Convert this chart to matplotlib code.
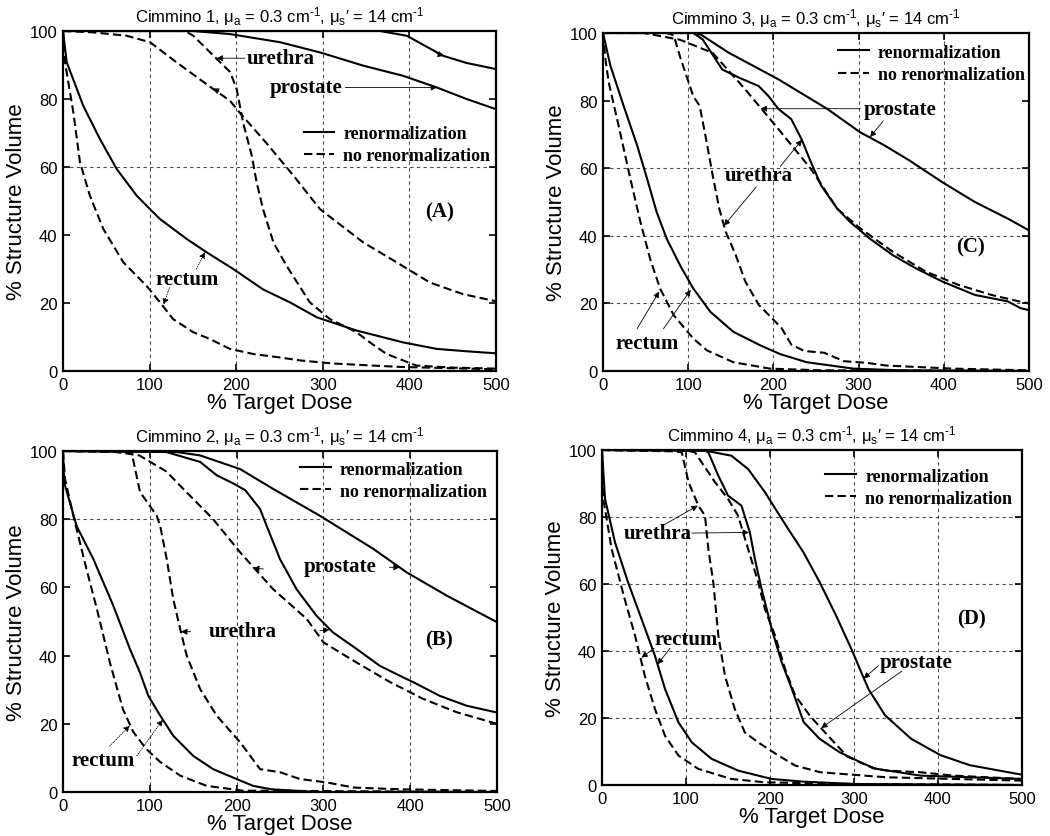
import matplotlib
matplotlib.use('Agg')
import matplotlib.pyplot as plt

plt.rcParams['font.family'] = ['Liberation Sans', 'DejaVu Sans']
plt.rcParams['mathtext.fontset'] = 'custom'
plt.rcParams['mathtext.rm'] = 'Liberation Sans'
plt.rcParams['mathtext.it'] = 'Liberation Sans'
plt.rcParams['mathtext.bf'] = 'Liberation Sans:bold'

# ---------------- Panel A (Cimmino 1) ----------------
a_pro_ren_x = [0, 150, 192.8, 250.6, 296.8, 346.8, 393, 431.5, 466, 500]
a_pro_ren_y = [100, 100, 99.1, 96.7, 93.7, 89.8, 86.8, 83.4, 80, 77]
a_pro_no_x = [0, 35, 73.5, 100.5, 131, 173.6, 192.8, 204, 235, 266, 296.8, 346.8, 385, 423.8, 462, 500]
a_pro_no_y = [100, 99.6, 98.6, 96.7, 90.8, 82.9, 79.5, 76, 67, 57.5, 47.6, 37.8, 32, 26, 22.6, 20.5]
a_ure_ren_x = [0, 340, 366, 397, 439, 466, 500]
a_ure_ren_y = [100, 100, 100, 98.6, 92.7, 90.6, 88.8]
a_ure_no_x = [0, 141, 150.5, 177.5, 192.8, 200.5, 208, 218, 223.6, 231, 243, 258, 285, 308, 339, 354.5, 373.7, 408, 450, 500]
a_ure_no_y = [100, 100, 98.6, 91.8, 88, 83, 73, 63.3, 55.5, 47.6, 37.8, 31, 20.2, 15.3, 11.4, 8.4, 5, 1.6, 1.0, 0.7]
a_rec_ren_x = [0, 4.3, 23.4, 42.7, 62, 85, 100.5, 112, 143, 166, 196.6, 231, 262, 293, 339, 393, 431.5, 466, 500]
a_rec_ren_y = [100, 90.8, 78, 68.2, 59.4, 51.6, 47.6, 44.7, 38.8, 34.9, 30, 24, 20.2, 15.8, 11.9, 8.4, 6.5, 5.8, 5.2]
a_rec_no_x = [0, 2.3, 12, 19.6, 31, 46.5, 69.6, 96.6, 112, 127, 150.5, 169.7, 192.8, 219.7, 250, 274, 312, 389, 500]
a_rec_no_y = [100, 90.8, 76, 61.4, 51.6, 41.8, 32, 25, 20.2, 15.3, 11.4, 9.4, 6.5, 5, 4, 3.1, 2.2, 1.2, 0.5]

# ---------------- Panel B (Cimmino 2) ----------------
b_pro_ren_x = [0, 131, 158, 204, 242, 296, 357.5, 396, 442, 500]
b_pro_ren_y = [100, 99.7, 98.7, 94.7, 88.9, 81, 71.3, 64.4, 57.6, 49.8]
b_pro_no_x = [0, 54, 88, 119, 142, 173, 204, 242, 281, 300, 338, 377, 415, 453.5, 500]
b_pro_no_y = [100, 100, 98.7, 94, 88, 80, 70.3, 59.5, 50.7, 43.9, 38, 32.2, 27.3, 23.4, 20]
b_ure_ren_x = [0, 119, 158, 177, 196, 210, 227, 234.7, 250, 269, 292, 311, 338, 365, 388, 403.6, 434, 465, 500]
b_ure_ren_y = [100, 99.7, 96.8, 92.9, 90.5, 88.5, 83, 78, 68.3, 59.5, 51.7, 46.8, 42, 37, 34.1, 32.2, 28.2, 25.3, 23.3]
b_ure_no_x = [0, 79, 88.7, 108, 112, 119.5, 127, 135, 142.5, 158, 177, 204, 227, 250, 273, 304, 335, 388, 500]
b_ure_no_y = [100, 99.6, 88, 81, 78, 68.3, 56.6, 47.8, 40, 30.2, 22.4, 14.6, 6.7, 5.8, 3.8, 2.8, 1.3, 0.8, 0.3]
b_rec_ren_x = [0, 1.3, 15.7, 35, 58, 77, 88.7, 98.3, 112, 127, 150, 173, 200, 219, 240, 292, 500]
b_rec_ren_y = [100, 90.8, 78, 68.3, 54.6, 42, 35, 28.2, 22.4, 16.5, 10.6, 6.7, 3.8, 1.8, 0.8, 0, 0]
b_rec_no_x = [0, 2.3, 11.9, 27, 39, 54, 69, 81, 96, 112, 135, 165.5, 207, 500]
b_rec_no_y = [100, 91.8, 81, 65.4, 53.7, 38, 24.3, 17.6, 12.6, 8.8, 4.8, 1.8, 0.4, 0]

# ---------------- Panel C (Cimmino 3) ----------------
c_pro_ren_x = [0, 106, 115, 148, 205.8, 263.5, 302, 330, 359.6, 398, 436.5, 475, 500]
c_pro_ren_y = [100, 100, 99.5, 94.1, 86.3, 77.5, 70.6, 66.8, 62.3, 55.9, 50, 45.1, 41.6]
c_pro_no_x = [0, 48, 90.4, 128.8, 167, 205.8, 244, 275, 302, 340, 379, 417, 456, 490, 500]
c_pro_no_y = [100, 100, 98, 94.1, 83.3, 71.6, 59.8, 48, 42.2, 35.3, 29.4, 25.5, 22.5, 20.5, 20]
c_ure_ren_x = [0, 106, 117, 140, 159.6, 182.7, 194, 206, 221, 233, 244, 256, 275, 290, 313, 340, 367, 398, 436.5, 475, 490, 500]
c_ure_ren_y = [100, 100, 98.1, 89.2, 86.8, 84.3, 81.4, 77.5, 74.5, 68.6, 61.8, 54.9, 48, 44.1, 39.2, 34.3, 30.4, 26.5, 22.5, 20.6, 18.6, 18]
c_ure_no_x = [0, 75, 83, 90.4, 105.8, 113.5, 121, 128.8, 136.5, 144, 155.8, 167, 182.7, 198, 209.6, 221, 236.5, 259.6, 282.7, 310, 333, 411, 500]
c_ure_no_y = [100, 100, 99.3, 93, 81.4, 78.4, 68.6, 57.8, 48, 41.2, 34.3, 26.5, 19.6, 15.7, 12.7, 7.8, 5.9, 5.4, 2.9, 2.4, 1.6, 0.7, 0.2]
c_rec_ren_x = [0, 8.6, 24, 40, 51.6, 63, 75, 91, 106, 126, 153, 184.5, 208, 239, 294, 350, 500]
c_rec_ren_y = [100, 90.4, 78.6, 66.8, 57, 47, 39, 31, 24.4, 17.5, 11.6, 7.6, 5, 2.6, 0.7, 0.2, 0]
c_rec_no_x = [0, 3, 6.6, 20, 32, 44, 55.5, 67, 83, 106, 122, 153, 196, 255, 500]
c_rec_no_y = [100, 92, 85.5, 70.7, 57, 44, 33, 24.4, 16.5, 9.6, 6.1, 2.6, 0.7, 0.2, 0]

# ---------------- Panel D (Cimmino 4) ----------------
d_pro_ren_x = [0, 123, 154, 174, 194, 210, 220.2, 239.7, 259, 278.6, 298, 308, 317.5, 337, 368, 403, 438, 492.6, 500]
d_pro_ren_y = [100, 99.8, 98.3, 94.3, 87.4, 81, 77, 69.5, 60.6, 50.6, 40, 34, 28.5, 20.8, 13.8, 8.9, 5.9, 3.4, 3.1]
d_pro_no_x = [0, 101, 110.7, 134.5, 150, 162, 174, 186, 194, 206, 218, 230, 248, 268, 292, 323, 339, 379, 418.6, 500]
d_pro_no_y = [100, 99.8, 99.3, 90.4, 85.4, 80.4, 70.4, 60.5, 52.5, 44.6, 34.6, 26.7, 20.5, 15, 8.5, 5, 4.3, 3.8, 2.8, 1.8]
d_ure_ren_x = [0, 123, 126.6, 138.5, 150, 166, 176, 182, 190, 202, 214, 226, 240, 259, 282, 307.5, 325, 379, 500]
d_ure_ren_y = [100, 99.8, 99.3, 92.3, 86.4, 83.4, 75.4, 67.5, 58.5, 46.6, 36.6, 28.7, 18.8, 13.8, 9.9, 6.8, 4.9, 2.8, 1.8]
d_ure_no_x = [0, 85, 95, 103, 114.7, 122.6, 126.6, 132.5, 138.5, 146.4, 158, 170, 186, 210, 230, 260, 339, 500]
d_ure_no_y = [100, 99.6, 99.3, 90.4, 83.4, 80.4, 70.4, 60.5, 44.6, 32.6, 22.7, 15.7, 12.7, 8.8, 5.8, 3.8, 2.3, 1.3]
d_rec_ren_x = [0, 3.6, 15.5, 31, 47, 63, 75, 91, 107, 130.5, 162, 202, 240, 300, 500]
d_rec_ren_y = [100, 85.4, 72.4, 60.5, 49.6, 38.6, 28.7, 18.7, 12.7, 7.8, 4.3, 1.8, 1.0, 0.3, 0]
d_rec_no_x = [0, 1.6, 11.5, 27, 39.3, 51, 63, 75, 91, 114.7, 154, 194, 300, 500]
d_rec_no_y = [100, 85.4, 70.4, 55.5, 44.6, 32.6, 22.7, 14.7, 8.8, 4.8, 1.8, 0.8, 0.3, 0]

titles = ['Cimmino 1', 'Cimmino 2', 'Cimmino 3', 'Cimmino 4']
panel_labels = ['(A)', '(B)', '(C)', '(D)']
legend_labels = ['renormalization', 'no renormalization']
x_ticks = [0, 100, 200, 300, 400, 500]
y_ticks = [0, 20, 40, 60, 80, 100]
v_grid = [100, 200, 300, 400]
h_grid_a = [60]
h_grid_b = [80]
h_grid_c = [20, 40, 60]
h_grid_d = [20, 40, 60, 80]

SOLID = dict(color='k', lw=1.5, linestyle='-')
DASH = dict(color='k', lw=1.5, linestyle=(0, (4, 2)))
SERIF = dict(family=['Liberation Serif', 'DejaVu Serif'], weight='bold')

fig = plt.figure(figsize=(10.5, 8.37), dpi=100)
rects = {
    'A': [63 / 1050, 1 - 372 / 837, 433 / 1050, 340 / 837],
    'C': [603 / 1050, 1 - 372 / 837, 426 / 1050, 338 / 837],
    'B': [63 / 1050, 1 - 793 / 837, 434 / 1050, 341 / 837],
    'D': [602 / 1050, 1 - 786 / 837, 420 / 1050, 335 / 837],
}


def setup(ax, title, hgrid):
    ax.set_xlim(0, 500)
    ax.set_ylim(0, 100)
    for g in v_grid:
        ax.axvline(g, color='0.3', lw=0.8, linestyle=(0, (3, 3)), zorder=0)
    for g in hgrid:
        ax.axhline(g, color='0.3', lw=0.8, linestyle=(0, (3, 3)), zorder=0)
    ax.set_xticks(x_ticks)
    ax.set_yticks(y_ticks)
    ax.tick_params(direction='in', top=True, right=True, length=5, width=1.2,
                   labelsize=12, pad=4)
    for s in ax.spines.values():
        s.set_linewidth(1.6)
    ax.set_xlabel('% Target Dose', fontsize=16, labelpad=0)
    ax.set_ylabel('% Structure Volume', fontsize=16, labelpad=2)
    ax.set_title(title + r', $\mu_a$ = 0.3 cm$^{\text{-}1}$, $\mu_s$' + '\u2032 = 14 cm$^{\\text{-}1}$',
                 fontsize=12, pad=7)


def curves(ax, pr, pn, ur, un, rr, rn):
    l1, = ax.plot(pr[0], pr[1], **SOLID)
    l2, = ax.plot(pn[0], pn[1], **DASH)
    ax.plot(ur[0], ur[1], **SOLID)
    ax.plot(un[0], un[1], **DASH)
    ax.plot(rr[0], rr[1], **SOLID)
    ax.plot(rn[0], rn[1], **DASH)
    return l1, l2


def legend(ax, h, x, y):
    ax.legend(h, legend_labels, loc='upper left', bbox_to_anchor=(x, y),
              bbox_transform=ax.transData, frameon=False, borderpad=0,
              borderaxespad=0, handlelength=1.7, handletextpad=0.5,
              labelspacing=0.28, prop=dict(family='Liberation Serif', weight='bold', size=13))


def arrow(ax, tip, tail, ls='-', hs=9):
    ax.annotate('', xy=tip, xytext=tail,
                arrowprops=dict(arrowstyle='-|>', color='k', lw=0.6, linestyle=ls,
                                mutation_scale=hs, shrinkA=0, shrinkB=0))


def label(ax, s, x, y, size=15):
    ax.text(x, y, s, ha='center', va='center', fontsize=size, **SERIF)


# Panel A
ax = fig.add_axes(rects['A'])
setup(ax, titles[0], h_grid_a)
h = curves(ax, (a_pro_ren_x, a_pro_ren_y), (a_pro_no_x, a_pro_no_y), (a_ure_ren_x, a_ure_ren_y),
           (a_ure_no_x, a_ure_no_y), (a_rec_ren_x, a_rec_ren_y), (a_rec_no_x, a_rec_no_y))
legend(ax, h, 278, 72.3)
label(ax, 'urethra', 251, 92)
arrow(ax, (177.5, 92), (210, 92))
arrow(ax, (440, 92.7), (432, 93.3))
label(ax, 'prostate', 281, 83.5)
arrow(ax, (432, 83.4), (326, 83.4))
arrow(ax, (173, 83.1), (180, 82.2))
label(ax, 'rectum', 143, 27)
arrow(ax, (164, 35), (154, 30), ls=':')
arrow(ax, (116, 19.5), (123, 24.5), ls=':')
label(ax, panel_labels[0], 435, 47)

# Panel C
ax = fig.add_axes(rects['C'])
setup(ax, titles[2], h_grid_c)
h = curves(ax, (c_pro_ren_x, c_pro_ren_y), (c_pro_no_x, c_pro_no_y), (c_ure_ren_x, c_ure_ren_y),
           (c_ure_no_x, c_ure_no_y), (c_rec_ren_x, c_rec_ren_y), (c_rec_no_x, c_rec_no_y))
legend(ax, h, 276, 96.8)
label(ax, 'prostate', 349, 77.5)
arrow(ax, (185, 77.6), (302, 77.6))
arrow(ax, (313.5, 69.2), (329, 74))
label(ax, 'urethra', 183, 58)
arrow(ax, (142, 43), (180, 54.5))
arrow(ax, (233.5, 68.4), (208, 60.5))
label(ax, 'rectum', 52, 8.2)
arrow(ax, (66, 23.5), (40, 12.5))
arrow(ax, (103, 24), (71, 12.5))
label(ax, panel_labels[2], 431, 36.7)

# Panel B
ax = fig.add_axes(rects['B'])
setup(ax, titles[1], h_grid_b)
h = curves(ax, (b_pro_ren_x, b_pro_ren_y), (b_pro_no_x, b_pro_no_y), (b_ure_ren_x, b_ure_ren_y),
           (b_ure_no_x, b_ure_no_y), (b_rec_ren_x, b_rec_ren_y), (b_rec_no_x, b_rec_no_y))
legend(ax, h, 273, 97.2)
label(ax, 'prostate', 319, 66.4)
arrow(ax, (388, 65.9), (376, 65.9))
arrow(ax, (219, 65.6), (231, 65.4))
label(ax, 'urethra', 207, 47.3)
arrow(ax, (307, 47.6), (296, 47.3))
arrow(ax, (136, 47), (147, 47))
label(ax, 'rectum', 46, 9.4)
arrow(ax, (77, 19.5), (54, 13.5), ls=':')
arrow(ax, (115, 21.2), (85, 10.6), ls=':')
label(ax, panel_labels[1], 433, 44.8)

# Panel D
ax = fig.add_axes(rects['D'])
setup(ax, titles[3], h_grid_d)
h = curves(ax, (d_pro_ren_x, d_pro_ren_y), (d_pro_no_x, d_pro_no_y), (d_ure_ren_x, d_ure_ren_y),
           (d_ure_no_x, d_ure_no_y), (d_rec_ren_x, d_rec_ren_y), (d_rec_no_x, d_rec_no_y))
legend(ax, h, 266, 94.7)
label(ax, 'urethra', 66, 75.2)
arrow(ax, (114, 83.4), (73.4, 77.6))
arrow(ax, (175, 75.4), (107, 75.2))
label(ax, 'rectum', 100, 43.6)
arrow(ax, (47, 38), (62, 40.8))
arrow(ax, (66, 36), (81, 40.8))
label(ax, 'prostate', 374, 36.7)
arrow(ax, (311.5, 31.8), (329, 35.6))
arrow(ax, (261, 17), (357, 34))
label(ax, panel_labels[3], 440, 49.8)

fig.savefig('out.png', dpi=100)
